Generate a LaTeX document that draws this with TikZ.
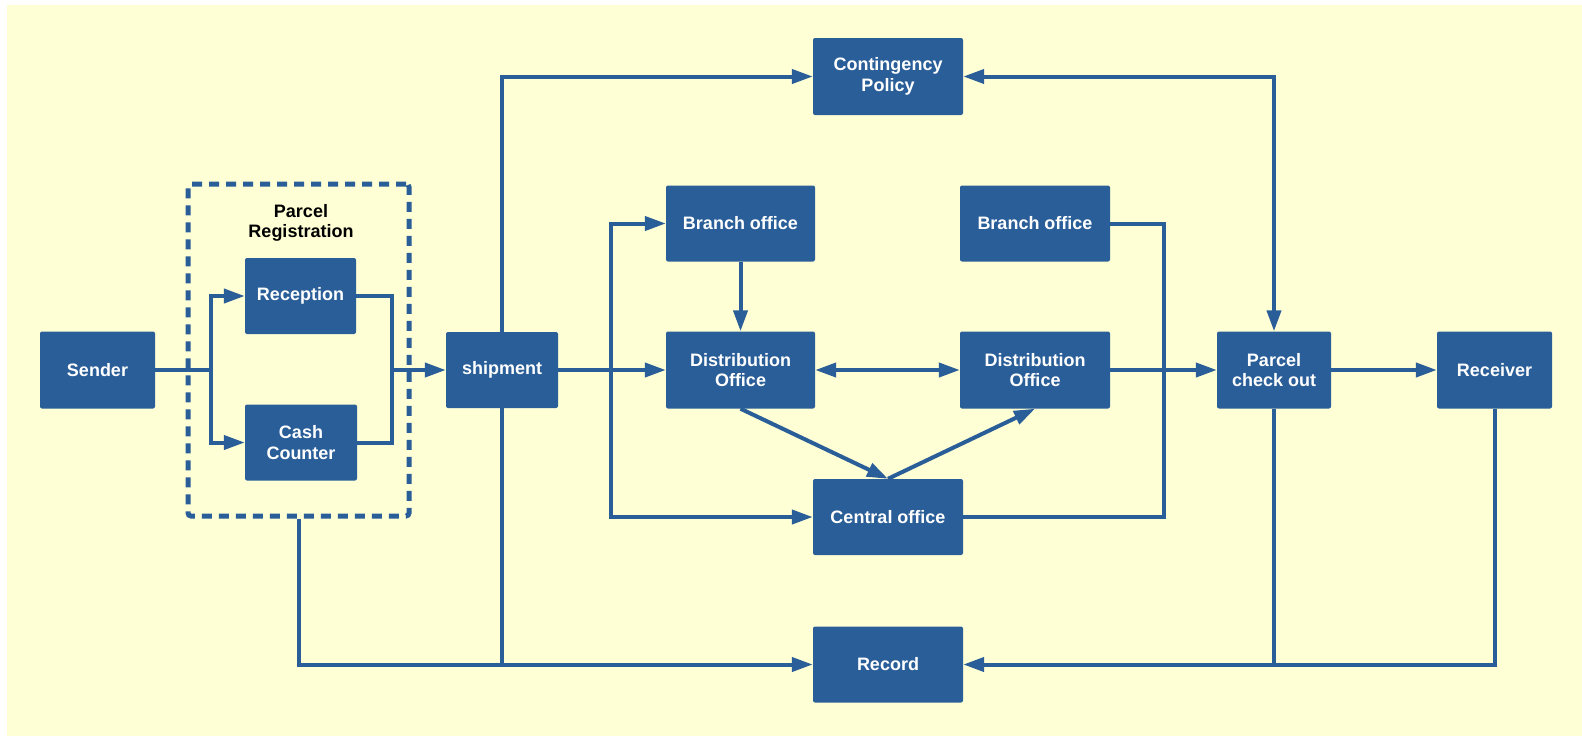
\documentclass[tikz,border=0pt]{standalone}
\usepackage{fontspec}
\setmainfont{Liberation Sans}
\usetikzlibrary{arrows.meta}
\definecolor{boxblue}{HTML}{2A5E98}
\definecolor{paper}{HTML}{FFFFD5}
\begin{document}
\begin{tikzpicture}[x=1pt,y=-1pt,
  blk/.style={fill=boxblue,text=white,rounded corners=2pt,inner sep=0pt,align=center,
    font=\fontsize{18}{20.5}\selectfont\bfseries},
  conn/.style={draw=boxblue,line width=4pt,line join=miter},
  tip/.style={-{Triangle[length=21pt,width=14pt]}},
  both/.style={{Triangle[length=21pt,width=14pt]}-{Triangle[length=21pt,width=14pt]}}]
  % canvas
  \useasboundingbox (0,0) rectangle (1582,736);
  \fill[paper] (7,5) rectangle (1582,736);

  % registration group
  \node[draw=boxblue,line width=5pt,dash pattern=on 10pt off 7pt,rounded corners=3pt,
        minimum width=221pt,minimum height=332pt,inner sep=0pt] (regbox) at (298.5,350) {};
  \node[align=center,font=\fontsize{18}{20.5}\selectfont\bfseries] (reglabel) at (301,223) {Parcel\\Registration};

  % boxes
  \node[blk,minimum width=115pt,minimum height=77pt] (sender) at (97.5,370) {Sender};
  \node[blk,minimum width=111pt,minimum height=76pt] (reception) at (300.5,296) {Reception};
  \node[blk,minimum width=112pt,minimum height=76pt] (cash) at (301,442.5) {Cash\\Counter};
  \node[blk,minimum width=112pt,minimum height=76pt] (shipment) at (502,370) {shipment};
  \node[blk,minimum width=150pt,minimum height=77pt] (cont) at (888,76.5) {Contingency\\Policy};
  \node[blk,minimum width=149pt,minimum height=76pt] (branch1) at (740.5,223.5) {Branch office};
  \node[blk,minimum width=150pt,minimum height=76pt] (branch2) at (1035,223.5) {Branch office};
  \node[blk,minimum width=149pt,minimum height=77pt] (dist1) at (740.5,370) {Distribution\\Office};
  \node[blk,minimum width=150pt,minimum height=77pt] (dist2) at (1035,370) {Distribution\\Office};
  \node[blk,minimum width=150pt,minimum height=76pt] (central) at (888,517) {Central office};
  \node[blk,minimum width=150pt,minimum height=76pt] (record) at (888,664.5) {Record};
  \node[blk,minimum width=114pt,minimum height=77pt] (checkout) at (1274,370) {Parcel\\check out};
  \node[blk,minimum width=115pt,minimum height=77pt] (receiver) at (1494.5,370) {Receiver};

  % junction points
  \coordinate (jin) at (211,370);
  \coordinate (jout) at (391.5,370);
  \coordinate (loopL) at (611,370);
  \coordinate (loopR) at (1164,517);

  % registration flow
  \draw[conn] (sender.east) -- (jin);
  \draw[conn,tip] (jin) |- (reception.west);
  \draw[conn,tip] (jin) |- (cash.west);
  \draw[conn] (reception.east) -| (jout);
  \draw[conn] (cash.east) -| (jout);
  \draw[conn,tip] (jout) -- (shipment.west);

  % contingency policy
  \draw[conn,tip] (shipment.north) |- (cont.west);
  \draw[conn,both] (cont.east) -| (checkout.north);

  % office network
  \draw[conn,tip] (shipment.east) -- (dist1.west);
  \draw[conn,tip] (loopL) |- (branch1.west);
  \draw[conn,tip] (loopL) |- (central.west);
  \draw[conn,tip] (branch1.south) -- (dist1.north);
  \draw[conn,both] (dist1.east) -- (dist2.west);
  \draw[conn,tip] (dist1.south) -- (central.north);
  \draw[conn,tip] (central.north) -- (dist2.south);
  \draw[conn] (branch2.east) -| (loopR) -- (central.east);
  \draw[conn,tip] (dist2.east) -- (checkout.west);
  \draw[conn,tip] (checkout.east) -- (receiver.west);

  % record keeping
  \draw[conn,tip] (regbox.south) |- (record.west);
  \draw[conn] (shipment.south) -- (shipment.south |- record.west);
  \draw[conn,tip] (receiver.south) |- (record.east);
  \draw[conn] (checkout.south) -- (checkout.south |- record.east);
\end{tikzpicture}
\end{document}
